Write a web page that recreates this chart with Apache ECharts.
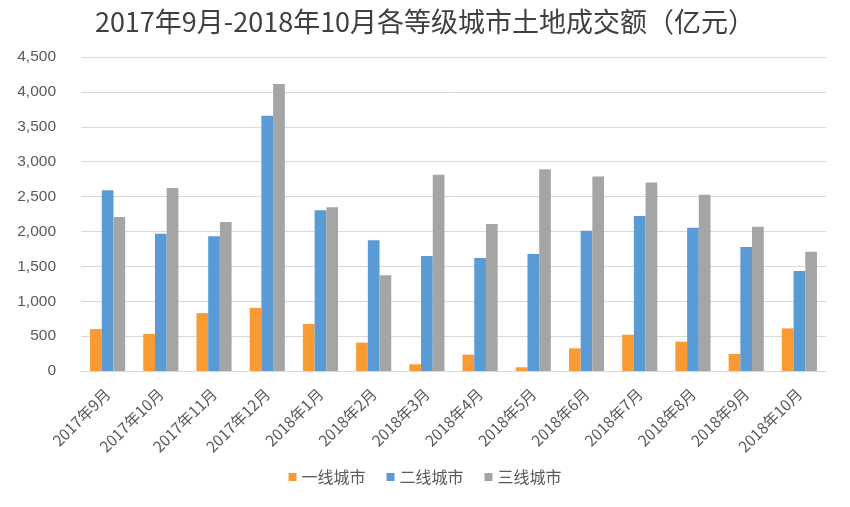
<!DOCTYPE html>
<html><head><meta charset="utf-8">
<script src="https://cdn.jsdelivr.net/npm/echarts@6/dist/echarts.min.js"></script>
<style>html,body{margin:0;padding:0;background:#fff}#c{width:850px;height:507px}</style>
</head><body><div id="c"></div>
<script>
const categories = ['2017年9月','2017年10月','2017年11月','2017年12月','2018年1月','2018年2月','2018年3月','2018年4月','2018年5月','2018年6月','2018年7月','2018年8月','2018年9月','2018年10月'];
const tier1 = [600, 530, 830, 905, 673, 407, 96, 235, 53, 325, 520, 420, 244, 611];
const tier2 = [2590, 1968, 1930, 3658, 2302, 1873, 1648, 1619, 1676, 2010, 2221, 2053, 1777, 1433];
const tier3 = [2206, 2622, 2135, 4112, 2345, 1371, 2814, 2106, 2890, 2789, 2703, 2526, 2068, 1710];
const seriesNames = ['一线城市','二线城市','三线城市'];
const colors = ['#F99A35','#5B9BD5','#A5A5A5'];
const yTicks = {min: 0, max: 4500, interval: 500};

const font = '"Noto Sans CJK SC", "Noto Sans", sans-serif';
const chart = echarts.init(document.getElementById('c'));
chart.setOption({
  animation: false,
  color: colors,
  title: {
    text: '2017年9月-2018年10月各等级城市土地成交额（亿元）',
    left: 'center', top: 3,
    textStyle: {fontFamily: font, fontSize: 27, fontWeight: 'normal', color: '#404040'}
  },
  legend: {
    bottom: 17, left: 'center',
    itemWidth: 8, itemHeight: 8, itemGap: 21,
    icon: 'rect',
    textStyle: {fontFamily: font, fontSize: 16, color: '#595959'},
    data: seriesNames
  },
  grid: {left: 81, right: 24, top: 57, bottom: 136, containLabel: false},
  xAxis: {
    type: 'category', data: categories,
    axisLine: {lineStyle: {color: '#D9D9D9'}},
    axisTick: {show: false},
    axisLabel: {rotate: 45, fontFamily: font, fontSize: 15.5, color: '#595959', margin: 20, interval: 0}
  },
  yAxis: {
    type: 'value', min: yTicks.min, max: yTicks.max, interval: yTicks.interval,
    axisLine: {show: false}, axisTick: {show: false},
    splitLine: {lineStyle: {color: '#D9D9D9'}},
    axisLabel: {fontFamily: '"Liberation Sans", Arial, sans-serif', fontSize: 15.5, color: '#595959', margin: 25,
      formatter: v => v.toLocaleString('en-US')}
  },
  series: [
    {name: seriesNames[0], type: 'bar', data: tier1, barGap: '0%', barCategoryGap: '34%'},
    {name: seriesNames[1], type: 'bar', data: tier2, barGap: '0%', barCategoryGap: '34%'},
    {name: seriesNames[2], type: 'bar', data: tier3, barGap: '0%', barCategoryGap: '34%'}
  ]
});
</script></body></html>
